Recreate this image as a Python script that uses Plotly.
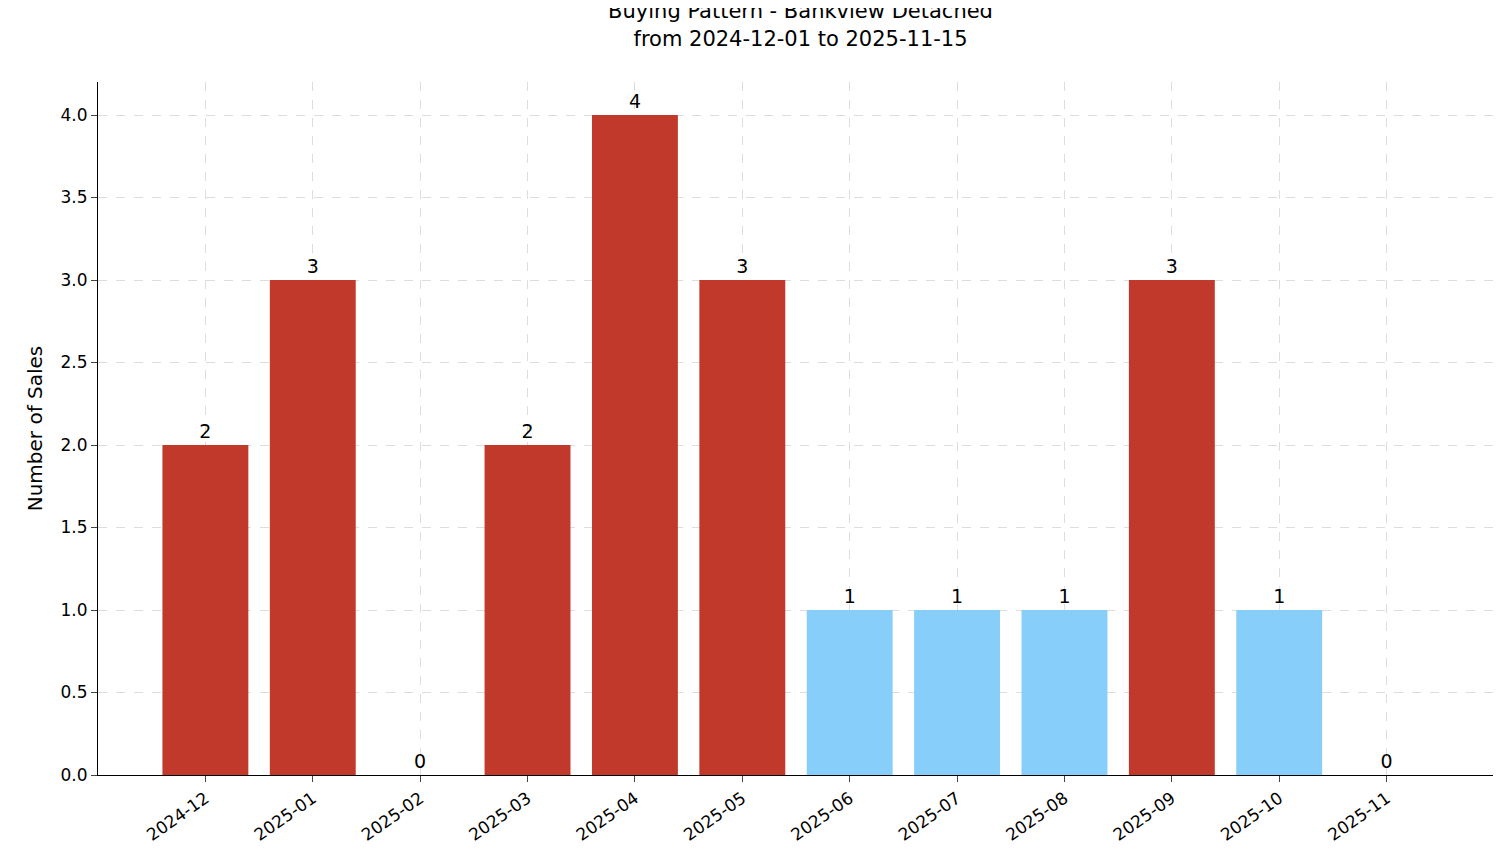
import plotly.graph_objects as go

months = ["2024-12","2025-01","2025-02","2025-03","2025-04","2025-05","2025-06","2025-07","2025-08","2025-09","2025-10","2025-11"]
sales = [2,3,0,2,4,3,1,1,1,3,1,0]
RED = "#c0392b"; BLUE = "#87cefa"
colors = [RED if v >= 2 else BLUE for v in sales]

x = list(range(len(months)))
fig = go.Figure(go.Bar(x=x, y=sales, width=0.8, marker=dict(color=colors, line=dict(width=0)),
                       text=[str(v) for v in sales], textposition="outside", cliponaxis=False,
                       textfont=dict(size=19, color="black")))
fig.update_layout(
    width=1501, height=863, plot_bgcolor="white", paper_bgcolor="white",
    font=dict(family="DejaVu Sans", size=17, color="black"),
    margin=dict(l=90, r=15, t=74, b=96, autoexpand=False),
    title=dict(text="Buying Pattern - Bankview Detached<br>from 2024-12-01 to 2025-11-15",
               x=0.528, xanchor="center", y=0.988, yanchor="top", font=dict(size=21)),
    showlegend=False,
)
fig.update_xaxes(tickmode="array", tickvals=x, ticktext=months, tickangle=-35, range=[-1, 12],
                 showline=True, linecolor="black", ticks="outside", ticklen=6, automargin=False,
                 showgrid=True, gridcolor="#dddddd", griddash="dash", gridwidth=0.8, zeroline=False)
fig.update_yaxes(range=[0, 4.2], dtick=0.5, tickformat=".1f", showline=True, linecolor="black",
                 ticks="outside", ticklen=6, automargin=False, showgrid=True, gridcolor="#dddddd",
                 griddash="dash", gridwidth=0.8, zeroline=False,
                 title=dict(text="Number of Sales", standoff=12))
fig.write_html("out.html")
